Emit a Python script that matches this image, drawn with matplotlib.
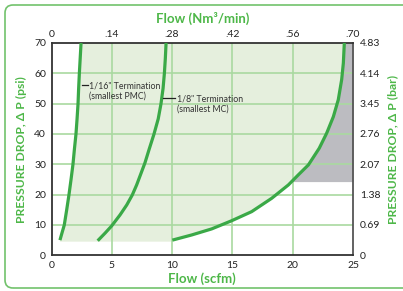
import numpy as np
import matplotlib.pyplot as plt
from matplotlib.patches import FancyBboxPatch
from matplotlib.transforms import IdentityTransform

# curve readings (flow in scfm, pressure drop in psi)
pmc_flow = [0.70, 0.90, 1.06, 1.26, 1.45, 1.62, 1.78, 1.90, 2.03, 2.12, 2.20, 2.25, 2.31, 2.38, 2.45]
pmc_psi = [5.0, 7.8, 10, 15, 20, 25, 30, 35, 40, 45, 50, 55, 60, 65, 70]
mc_flow = [3.83, 4.44, 4.99, 5.68, 6.24, 6.70, 7.06, 7.42, 7.75, 8.10, 8.50, 8.85, 9.08, 9.25, 9.36, 9.44, 9.50]
mc_psi = [4.8, 7.3, 9.7, 13.3, 16.6, 19.9, 23.2, 27.0, 30.5, 35, 40, 45, 50, 55, 60, 65, 70]
big_flow = [10.02, 11.62, 13.28, 14.94, 16.60, 18.26, 19.64, 20.46, 21.30, 21.66, 22.20,
            22.82, 23.37, 23.78, 24.06, 24.20, 24.28]
big_psi = [5.0, 6.7, 8.7, 11.4, 14.4, 18.8, 23.2, 26.5, 29.8, 32.0, 35.3,
           40.3, 45.7, 51.3, 57.9, 63.4, 70]

psi_ticks = [0, 10, 20, 30, 40, 50, 60, 70]
bar_labels = ["0", "0.69", "1.38", "2.07", "2.76", "3.45", "4.14", "4.83"]
scfm_ticks = [0, 5, 10, 15, 20, 25]
nm3_labels = ["0", ".14", ".28", ".42", ".56", ".70"]
gray_floor = 24.3
fill_floor = 4.5

GREEN = "#3aa947"
TXT_GREEN = "#4db748"
GRID = "#a9d9a0"
FILL = "#e5efdd"
GRAY = "#bcbcc1"

plt.rcParams["font.family"] = ["Lato", "DejaVu Sans"]

fig = plt.figure(figsize=(4.03, 2.91), dpi=100)
ax = fig.add_axes([51.5 / 403, 1 - 255.3 / 291, (353 - 51.5) / 403, (255.3 - 43) / 291])

# light green operating area between smallest and largest curves
poly_x = [pmc_flow[0]] + list(pmc_flow) + big_flow[::-1] + [big_flow[0]]
poly_y = [fill_floor] + list(pmc_psi) + big_psi[::-1] + [fill_floor]
ax.fill(poly_x, poly_y, color=FILL, lw=0, zorder=0)

# gray region right of the big curve
ys = [gray_floor] + [p for p in big_psi if p > gray_floor]
xs = np.interp(ys, big_psi, big_flow)
ax.fill_betweenx(ys, xs, 25, color=GRAY, lw=0, zorder=0.5)

for x in scfm_ticks[1:-1]:
    ax.axvline(x, color=GRID, lw=1.2, zorder=1)
for y in psi_ticks[1:-1]:
    ax.axhline(y, color=GRID, lw=1.2, zorder=1)

for fx, fy in [(pmc_flow, pmc_psi), (mc_flow, mc_psi), (big_flow, big_psi)]:
    ax.plot(fx, fy, color=GREEN, lw=2.3, solid_capstyle="butt",
            solid_joinstyle="round", zorder=3)

# callouts
ax.plot([2.5, 3.0], [56.0, 56.0], color="#222222", lw=0.9, zorder=4)
ax.text(3.15, 54.3, "1/16\" Termination\n(smallest PMC)", fontsize=6.3,
        color="#333333", va="center", ha="left", linespacing=1.15, zorder=4)
ax.plot([9.22, 10.2], [51.8, 51.8], color="#222222", lw=0.9, zorder=4)
ax.text(10.38, 50.0, "1/8\" Termination\n(smallest MC)", fontsize=6.3,
        color="#333333", va="center", ha="left", linespacing=1.15, zorder=4)

ax.set_xlim(0, 25)
ax.set_ylim(0, 70)
ax.set_xticks(scfm_ticks)
ax.set_yticks(psi_ticks)
ax.tick_params(length=0, labelsize=7.5, colors="#222222", pad=4)
for s in ax.spines.values():
    s.set_color("#333333")
    s.set_linewidth(1.3)
ax.spines["right"].set_color("#555555")

ax.set_xlabel("Flow (scfm)", color=TXT_GREEN, fontsize=9.5, fontweight="bold", labelpad=2)
ax.set_ylabel("PRESSURE DROP, \u0394 P (psi)", color=TXT_GREEN, fontsize=8.7,
              fontweight="bold", labelpad=5)

ax_top = ax.twiny()
ax_top.set_xlim(0, 25)
ax_top.set_xticks(scfm_ticks)
ax_top.set_xticklabels(nm3_labels)
ax_top.tick_params(length=0, labelsize=7.5, colors="#222222", pad=3)
ax_top.set_xlabel("Flow (Nm\u00b3/min)", color=TXT_GREEN, fontsize=9.5,
                  fontweight="bold", labelpad=5)

ax_r = ax.twinx()
ax_r.set_ylim(0, 70)
ax_r.set_yticks(psi_ticks)
ax_r.set_yticklabels(bar_labels)
ax_r.tick_params(length=0, labelsize=7.5, colors="#222222", pad=5)
ax_r.set_ylabel("PRESSURE DROP, \u0394 P (bar)", color=TXT_GREEN, fontsize=8.7,
                fontweight="bold", labelpad=5)
for a in (ax_top, ax_r):
    for s in a.spines.values():
        s.set_visible(False)

# rounded panel border
border = FancyBboxPatch((5, 3), 420, 283, boxstyle="round,pad=0,rounding_size=8",
                        transform=IdentityTransform(), fill=False,
                        edgecolor="#72c26c", lw=1.2)
fig.patches.append(border)

fig.savefig("out.png", dpi=100)
